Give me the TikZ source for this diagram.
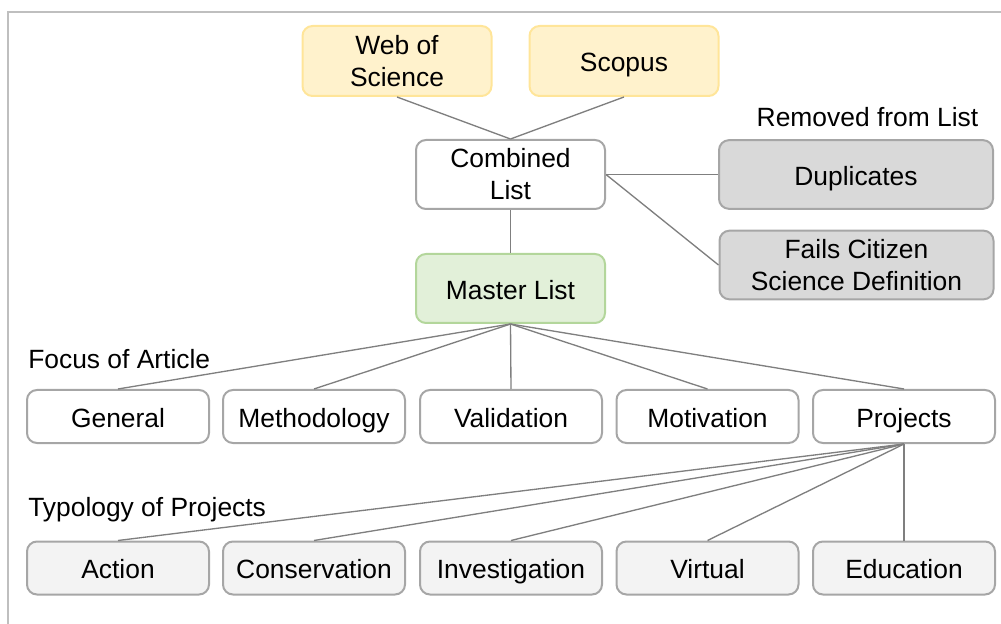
\documentclass[tikz,border=0pt]{standalone}
\usepackage{fontspec}
\setmainfont{Liberation Sans}
\definecolor{srcfill}{HTML}{FFF2CC}
\definecolor{srcdraw}{HTML}{FFE599}
\definecolor{mastfill}{HTML}{E2F0D9}
\definecolor{mastdraw}{HTML}{B3D69B}
\definecolor{remfill}{HTML}{D9D9D9}
\definecolor{typfill}{HTML}{F3F3F3}
\definecolor{boxdraw}{HTML}{A6A6A6}
\definecolor{linkcol}{HTML}{7F7F7F}
\definecolor{framecol}{HTML}{BFBFBF}
\tikzset{
  box/.style={draw=boxdraw, fill=white, line width=1.5pt, rounded corners=7.5pt,
    inner sep=0pt, align=center, font=\fontsize{19.8}{24}\selectfont},
  oneline/.style={text height=16pt, text depth=0pt},
  bigbox/.style={box, minimum width=141.75pt, minimum height=51.75pt},
  srcbox/.style={bigbox, fill=srcfill, draw=srcdraw, minimum height=52.5pt},
  mastbox/.style={bigbox, fill=mastfill, draw=mastdraw},
  rembox/.style={box, fill=remfill, minimum width=205.5pt, minimum height=51.5pt},
  catbox/.style={box, oneline, minimum width=136.5pt, minimum height=39.75pt},
  typbox/.style={catbox, fill=typfill},
  heading/.style={inner sep=0pt, font=\fontsize{19.8}{24}\selectfont},
  link/.style={draw=linkcol, line width=1pt},
}
\begin{document}
\begin{tikzpicture}[x=0.75pt, y=-0.75pt]
\useasboundingbox (0,0) rectangle (1001,624);
% outer frame
\draw[framecol, line width=1.5pt] (8,640) -- (8,12) -- (1020,12);

% sources and merged lists
\node[srcbox] (wos) at (397,61) {Web of\\Science};
\node[srcbox, oneline] (scopus) at (624,61) {Scopus};
\node[bigbox] (combined) at (510.5,174.5) {Combined\\List};
\node[mastbox, oneline] (master) at (510.5,288.5) {Master List};

% removed entries
\node[heading] (removed) at (867.5,117.5) {Removed from List};
\node[rembox, oneline] (dup) at (856,174.5) {Duplicates};
\node[rembox] (fails) at (856.5,265) {Fails Citizen\\Science Definition};

% focus of article
\node[heading, anchor=west] (focus) at (28,359.5) {Focus of Article};
\node[catbox] (general) at (118,416.5) {General};
\node[catbox] (method) at (314,416.5) {Methodology};
\node[catbox] (valid) at (511,416.5) {Validation};
\node[catbox] (motiv) at (707.5,416.5) {Motivation};
\node[catbox] (proj) at (904,416.5) {Projects};

% typology of projects
\node[heading, anchor=west] (typology) at (28,510) {Typology of Projects};
\node[typbox] (action) at (118,568) {Action};
\node[typbox] (conserv) at (314,568) {Conservation};
\node[typbox] (invest) at (511,568) {Investigation};
\node[typbox] (virtual) at (707.5,568) {Virtual};
\node[typbox] (educ) at (904,568) {Education};

% connectors
\draw[link] (wos.south) -- (combined.north);
\draw[link] (scopus.south) -- (combined.north);
\draw[link] (combined.east) -- (dup.west);
\draw[link] (combined.east) -- (fails.west);
\draw[link] (combined.south) -- (master.north);
\foreach \n in {general,method,valid,motiv,proj}
  \draw[link] (master.south) -- (\n.north);
\foreach \n in {action,conserv,invest,virtual,educ}
  \draw[link] (proj.south) -- (\n.north);
\end{tikzpicture}
\end{document}
